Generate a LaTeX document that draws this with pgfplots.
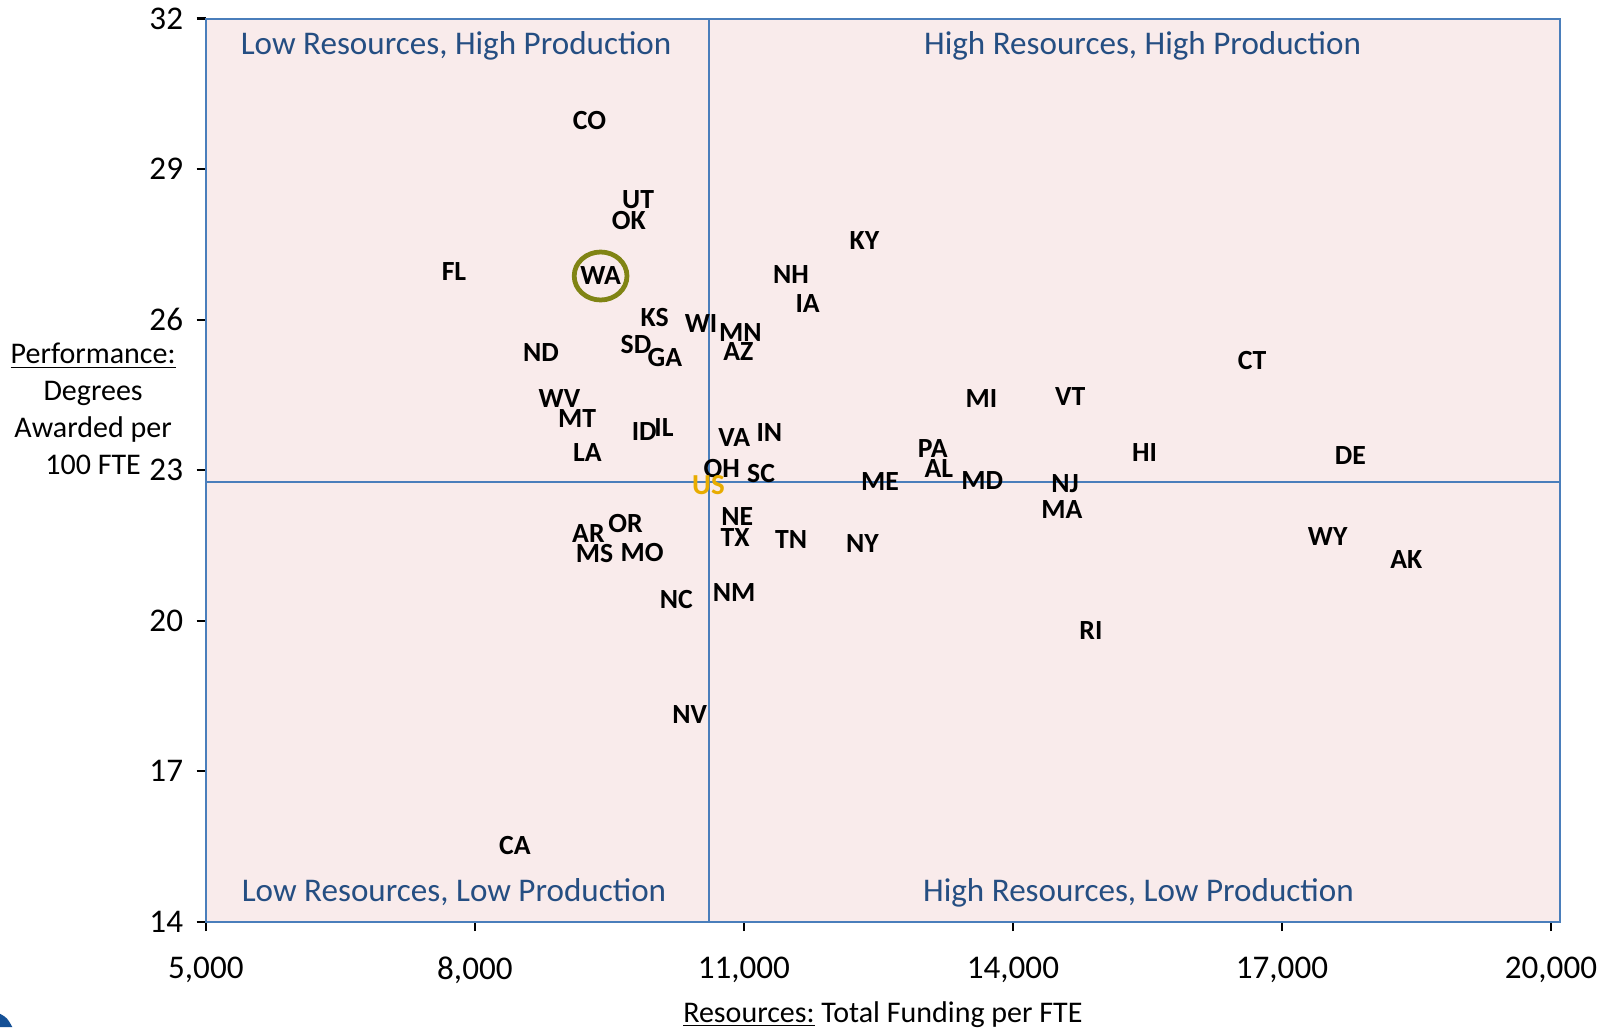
\documentclass[border=0pt]{standalone}
\usepackage{pgfplots}
\usepackage{pgfplotstable}
\pgfplotsset{compat=1.18}
\usepackage{fontspec}
\setmainfont{Carlito}
\definecolor{boxblue}{RGB}{74,126,187}
\definecolor{pinkfill}{RGB}{249,235,235}
\definecolor{quadblue}{RGB}{37,78,130}
\definecolor{usgold}{RGB}{232,172,0}
\definecolor{olivec}{RGB}{128,132,20}
\definecolor{swoosh}{RGB}{20,80,150}

\pgfplotstableread{
x y label
9278 29.96 CO
9820 28.39 UT
9716 27.98 OK
7767 26.95 FL
12345 27.57 KY
11526 26.89 NH
11711 26.33 IA
10004 26.04 KS
10523 25.92 WI
10961 25.75 MN
9797 25.51 SD
10119 25.24 GA
10938 25.36 AZ
8736 25.34 ND
16668 25.18 CT
8943 24.43 WV
13648 24.43 MI
14639 24.47 VT
9139 24.02 MT
9889 23.77 ID
10108 23.86 IL
10892 23.65 VA
11284 23.75 IN
9255 23.36 LA
13106 23.44 PA
15469 23.36 HI
17764 23.30 DE
13175 23.03 AL
10753 23.03 OH
11192 22.93 SC
12518 22.78 ME
13659 22.80 MD
14581 22.74 NJ
14547 22.21 MA
10926 22.08 NE
9681 21.94 OR
9266 21.73 AR
17510 21.67 WY
10903 21.65 TX
11526 21.61 TN
12322 21.53 NY
9335 21.34 MS
9866 21.36 MO
18387 21.22 AK
10246 20.43 NC
10892 20.56 NM
14870 19.81 RI
10396 18.12 NV
8447 15.51 CA
}\states

\begin{document}
\begin{tikzpicture}
\path[use as bounding box] (-99.5pt,-51pt) rectangle (684.5pt,445.5pt);
\fill[swoosh] (-99.5pt,-44.5pt) .. controls (-96pt,-46.5pt) .. (-93.5pt,-51pt) -- (-99.5pt,-51pt) -- cycle;
\begin{axis}[
  scale only axis, width=654.5pt, height=436.5pt,
  xmin=5000, xmax=20100, ymin=14, ymax=32,
  axis background/.style={fill=pinkfill},
  axis line style={boxblue, line width=1pt},
  xtick={5000,8000,11000,14000,17000,20000},
  xticklabels={{5,000},{8,000},{11,000},{14,000},{17,000},{20,000}},
  scaled x ticks=false,
  ytick={14,17,20,23,26,29,32},
  tick align=outside,
  major tick length=4.5pt,
  tick style={black, line width=1.1pt},
  xtick pos=left, ytick pos=left,
  ticklabel style={font=\fontsize{16}{16}\selectfont},
  xticklabel style={yshift=-9pt},
  yticklabel style={xshift=-3pt},
  /pgf/number format/assume math mode=true,
  clip=false,
]
\addplot[boxblue, line width=0.9pt] coordinates {(10610,14) (10610,32)};
\addplot[boxblue, line width=0.9pt] coordinates {(5000,22.76) (20100,22.76)};

\addplot[draw=none, mark=none, nodes near coords, point meta=explicit symbolic,
  nodes near coords style={anchor=center, inner sep=0pt, text=black,
    font=\fontsize{13.4}{13.4}\selectfont\bfseries}]
  table[x=x, y=y, meta=label] {\states};

\addplot[draw=none, mark=none, nodes near coords, point meta=explicit symbolic,
  nodes near coords style={anchor=center, inner sep=0pt, text=usgold,
    font=\fontsize{14}{14}\selectfont\bfseries}]
  coordinates {(10604,22.70) [US]};

\addplot[draw=none, mark=none, nodes near coords, point meta=explicit symbolic,
  nodes near coords style={anchor=center, inner sep=0pt, text=black,
    font=\fontsize{13.4}{13.4}\selectfont\bfseries}]
  coordinates {(9402,26.87) [WA]};

\addplot[only marks, mark=o, mark size=11.6pt, olivec, line width=2.3pt,
  mark options={xscale=1.1}] coordinates {(9402,26.87)};

\node[font=\fontsize{16}{16}\selectfont, text=quadblue] at (axis cs:7790,31.46) {Low Resources, High Production};
\node[font=\fontsize{16}{16}\selectfont, text=quadblue] at (axis cs:15446,31.46) {High Resources, High Production};
\node[font=\fontsize{16}{16}\selectfont, text=quadblue] at (axis cs:7767,14.58) {Low Resources, Low Production};
\node[font=\fontsize{16}{16}\selectfont, text=quadblue] at (axis cs:15400,14.58) {High Resources, Low Production};

\node[align=center, font=\fontsize{14.5}{17.75}\selectfont] at (axis description cs:0,0.568) [xshift=-54.5pt]
  {\underline{Performance:}\\Degrees\\Awarded per\\100 FTE};
\node[font=\fontsize{14.5}{14.5}\selectfont] at (axis description cs:0.5,0) [yshift=-45pt]
  {\underline{Resources:} Total Funding per FTE};
\end{axis}
\end{tikzpicture}
\end{document}
